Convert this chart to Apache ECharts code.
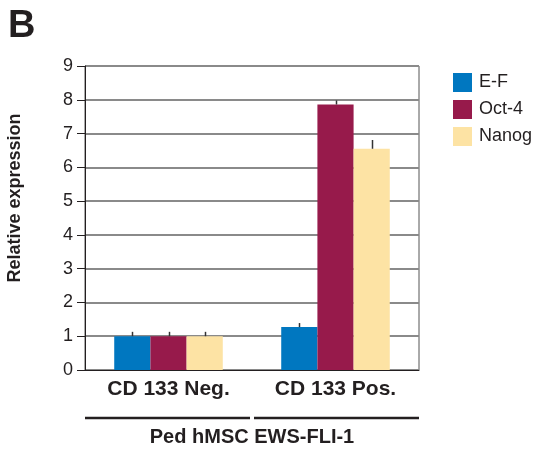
<!DOCTYPE html>
<html>
<head>
<meta charset="utf-8">
<script src="https://cdn.jsdelivr.net/npm/echarts@6/dist/echarts.min.js"></script>
<style>html,body{margin:0;padding:0;background:#fff;}#c{width:534px;height:452px;}</style>
</head>
<body>
<div id="c"></div>
<script>
const categories = ['CD 133 Neg.', 'CD 133 Pos.'];
const seriesNames = ['E-F', 'Oct-4', 'Nanog'];
const efValues = [1.0, 1.27];
const oct4Values = [1.0, 7.86];
const nanogValues = [1.0, 6.55];
const efErrors = [0.13, 0.12];
const oct4Errors = [0.13, 0.12];
const nanogErrors = [0.13, 0.26];
const yTicks = [0, 1, 2, 3, 4, 5, 6, 7, 8, 9];
const colors = ['#0077c0', '#971a4b', '#fde3a4'];
const FONT = "'Liberation Sans', Arial, Helvetica, sans-serif";
const GAP = 0.35;

const values = [efValues, oct4Values, nanogValues];
const errors = [efErrors, oct4Errors, nanogErrors];

const chart = echarts.init(document.getElementById('c'), null, {renderer: 'canvas'});

const barSeries = seriesNames.map((n, i) => ({
  name: n, type: 'bar', data: values[i], barGap: '0%', barCategoryGap: (GAP * 100) + '%',
  itemStyle: {color: colors[i]}, z: 2
}));

const errSeries = seriesNames.map((n, k) => ({
  name: n + ' err', type: 'custom', z: 5,
  data: values[k].map((v, i) => [i, v, errors[k][i]]),
  encode: {x: 0, y: 1},
  renderItem: function (params, api) {
    const base = api.coord([api.value(0), api.value(1)]);
    const top = api.coord([api.value(0), api.value(1) + api.value(2)]);
    const band = api.size([1, 0])[0];
    const bw = band * (1 - GAP) / 3;
    const x = Math.round(base[0] + (k - 1) * bw) + 0.5;
    return {type: 'line', shape: {x1: x, y1: base[1], x2: x, y2: top[1]},
      style: {stroke: '#333', lineWidth: 1.5}};
  }
}));

chart.setOption({
  animation: false,
  textStyle: {fontFamily: FONT},
  title: {text: 'B', left: 3, top: 3, textStyle: {fontFamily: FONT, fontSize: 38, fontWeight: 'bold', color: '#231f20'}},
  grid: {left: 85, right: 115, top: 66, bottom: 79, show: true, borderColor: '#555', borderWidth: 1},
  legend: {
    data: seriesNames, orient: 'vertical', left: 448, top: 68, itemWidth: 19, itemHeight: 19, itemGap: 8,
    icon: 'rect', textStyle: {fontFamily: FONT, fontSize: 18, color: '#231f20', padding: [0, 0, 0, 2]}
  },
  xAxis: {
    type: 'category', data: categories,
    axisLine: {lineStyle: {color: '#231f20', width: 1}},
    axisTick: {show: false},
    axisLabel: {fontFamily: FONT, fontSize: 21, fontWeight: 'bold', color: '#231f20', margin: 9},
    name: 'Ped hMSC EWS-FLI-1', nameLocation: 'middle', nameGap: 57,
    nameTextStyle: {fontFamily: FONT, fontSize: 20, fontWeight: 'bold', color: '#231f20'}
  },
  yAxis: {
    type: 'value', min: yTicks[0], max: yTicks[yTicks.length - 1], interval: 1,
    axisLine: {show: true, lineStyle: {color: '#231f20', width: 1}},
    axisTick: {show: true, length: 8, lineStyle: {color: '#231f20'}},
    axisLabel: {fontFamily: FONT, fontSize: 18, color: '#231f20', margin: 12},
    splitLine: {lineStyle: {color: '#8a8a8a', width: 2}}
  },
  graphic: [
    {type: 'text', x: 15, y: 198, rotation: Math.PI / 2, style: {
      text: 'Relative expression', fontFamily: FONT, fontSize: 18, fontWeight: 'bold', fill: '#231f20',
      textAlign: 'center', textVerticalAlign: 'middle'}},
    {type: 'line', shape: {x1: 85, y1: 418, x2: 250, y2: 418}, style: {stroke: '#231f20', lineWidth: 2.5}},
    {type: 'line', shape: {x1: 254, y1: 418, x2: 419, y2: 418}, style: {stroke: '#231f20', lineWidth: 2.5}}
  ],
  series: barSeries.concat(errSeries)
});
</script>
</body>
</html>
